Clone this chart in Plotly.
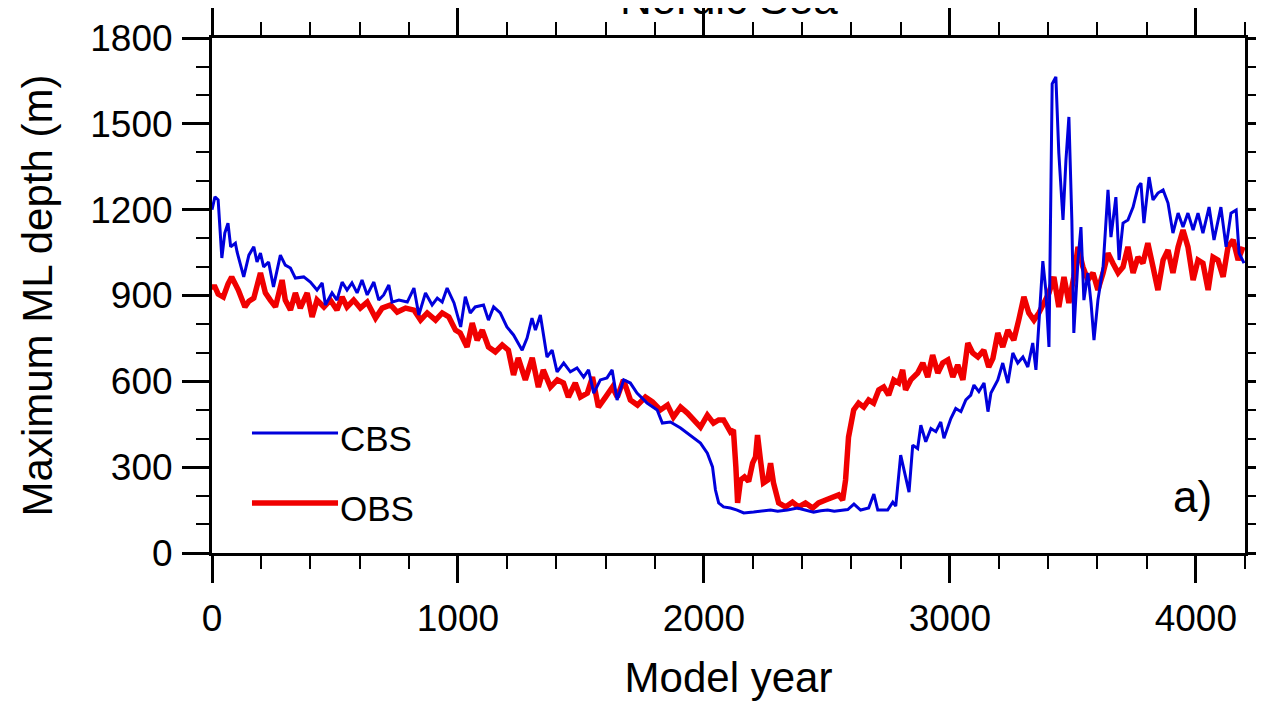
import plotly.graph_objects as go

# ---------------- data ----------------
cbs_year = [0, 12, 25, 40, 52, 65, 76, 95, 102, 129, 150, 170, 183, 197, 210, 230, 250, 278, 298, 319,
            339, 373, 400, 427, 448, 461, 488, 508, 529, 549, 569, 590, 610, 631, 658, 678, 698, 719, 732, 760,
            794, 821, 841, 868, 895, 916, 936, 956, 984, 1011, 1030, 1050, 1070, 1104, 1124, 1145, 1172, 1199, 1226, 1261,
            1281, 1301, 1315, 1335, 1362, 1383, 1403, 1430, 1457, 1484, 1511, 1531, 1552, 1579, 1606, 1627, 1647, 1674, 1701, 1728,
            1769, 1810, 1831, 1864, 1905, 1933, 1958, 1986, 2014, 2035, 2047, 2060, 2080, 2108, 2135, 2162, 2202, 2240, 2271, 2300,
            2340, 2380, 2410, 2446, 2475, 2503, 2530, 2556, 2585, 2610, 2637, 2670, 2691, 2707, 2747, 2768, 2780, 2800, 2820, 2834,
            2849, 2869, 2882, 2902, 2923, 2943, 2963, 2976, 3004, 3024, 3045, 3065, 3085, 3098, 3118, 3139, 3155, 3167, 3195, 3215,
            3236, 3256, 3276, 3297, 3317, 3337, 3350, 3362, 3378, 3390, 3403, 3416, 3431, 3443, 3460, 3472, 3484, 3496, 3504, 3521,
            3533, 3545, 3561, 3574, 3586, 3602, 3623, 3643, 3655, 3675, 3688, 3704, 3724, 3745, 3765, 3777, 3789, 3810, 3826, 3846,
            3867, 3887, 3907, 3928, 3948, 3968, 3989, 4009, 4029, 4054, 4074, 4102, 4123, 4143, 4164, 4176, 4196]
cbs_depth = [1200, 1245, 1234, 1031, 1118, 1153, 1070, 1083, 1052, 965, 1041, 1070, 1017, 1048, 1000, 1017, 930, 1041, 1006, 996,
             961, 965, 947, 919, 944, 867, 909, 884, 947, 919, 944, 909, 954, 902, 947, 884, 902, 937, 877, 884,
             877, 926, 832, 909, 867, 891, 877, 926, 874, 790, 896, 839, 860, 867, 814, 860, 839, 790, 762, 709,
             751, 821, 779, 832, 685, 709, 633, 664, 633, 647, 615, 640, 559, 605, 612, 640, 535, 605, 594, 559,
             524, 500, 454, 458, 437, 419, 405, 384, 349, 301, 220, 175, 161, 157, 150, 140, 143, 148, 150, 146,
             150, 157, 150, 143, 148, 150, 146, 150, 152, 171, 150, 157, 206, 150, 150, 178, 164, 342, 272, 213,
             377, 365, 447, 389, 435, 424, 458, 401, 470, 505, 494, 535, 552, 587, 564, 594, 494, 559, 605, 664,
             594, 699, 664, 685, 650, 734, 640, 790, 1020, 920, 720, 1640, 1664, 1398, 1164, 1373, 1524, 1164, 769, 1024,
             1139, 884, 979, 874, 744, 884, 1000, 1269, 1104, 1244, 1024, 1153, 1164, 1209, 1279, 1293, 1153, 1314, 1234, 1258,
             1269, 1223, 1118, 1188, 1139, 1188, 1129, 1188, 1118, 1209, 1094, 1209, 1070, 1188, 1199, 1048, 1013]

obs_year = [0, 12, 25, 46, 65, 80, 107, 134, 150, 170, 197, 217, 237, 258, 285, 298, 319, 339, 359, 387,
            407, 427, 455, 481, 508, 529, 549, 576, 603, 631, 665, 692, 726, 753, 787, 821, 848, 875, 909, 936,
            963, 990, 1009, 1037, 1058, 1078, 1099, 1124, 1152, 1180, 1205, 1226, 1245, 1274, 1302, 1327, 1347, 1376, 1404, 1429,
            1449, 1477, 1498, 1526, 1547, 1571, 1600, 1628, 1648, 1673, 1701, 1730, 1762, 1791, 1823, 1852, 1876, 1905, 1933, 1958,
            1986, 2014, 2039, 2060, 2080, 2108, 2120, 2130, 2137, 2149, 2165, 2182, 2198, 2210, 2218, 2230, 2242, 2259, 2271, 2283,
            2304, 2332, 2360, 2385, 2413, 2442, 2466, 2495, 2523, 2548, 2564, 2576, 2588, 2609, 2629, 2650, 2670, 2690, 2711, 2731,
            2751, 2772, 2792, 2808, 2820, 2841, 2869, 2890, 2910, 2930, 2951, 2971, 2992, 3012, 3032, 3053, 3073, 3093, 3114, 3138,
            3158, 3175, 3195, 3215, 3236, 3260, 3280, 3301, 3321, 3342, 3362, 3382, 3403, 3423, 3443, 3464, 3484, 3504, 3521, 3541,
            3561, 3582, 3602, 3623, 3643, 3663, 3684, 3704, 3724, 3745, 3765, 3785, 3805, 3826, 3846, 3867, 3887, 3907, 3928, 3948,
            3968, 3989, 4009, 4029, 4050, 4070, 4090, 4111, 4131, 4152, 4172, 4192]
obs_depth = [930, 930, 905, 895, 940, 965, 919, 860, 880, 891, 979, 909, 884, 860, 954, 884, 849, 909, 856, 909,
             825, 884, 860, 884, 849, 895, 860, 884, 856, 877, 821, 856, 867, 842, 856, 849, 814, 839, 814, 839,
             825, 779, 769, 720, 804, 744, 779, 720, 703, 727, 709, 622, 682, 605, 682, 580, 640, 580, 605, 594,
             545, 594, 545, 559, 615, 510, 545, 580, 545, 605, 535, 517, 545, 528, 500, 517, 475, 510, 489, 465,
             440, 482, 454, 465, 465, 423, 430, 300, 175, 255, 266, 250, 314, 336, 412, 325, 245, 255, 314, 245,
             175, 161, 178, 161, 175, 157, 175, 185, 192, 203, 185, 255, 405, 500, 524, 510, 535, 524, 570, 580,
             552, 605, 594, 640, 570, 605, 629, 664, 615, 692, 629, 664, 675, 615, 657, 605, 734, 699, 685, 709,
             650, 680, 769, 720, 779, 744, 814, 895, 839, 814, 839, 874, 909, 965, 860, 965, 874, 965, 1070, 1000,
             954, 979, 919, 979, 1048, 1013, 979, 1000, 1070, 979, 1034, 1013, 1083, 1000, 919, 1024, 1059, 979, 1070, 1129,
             1070, 954, 1024, 1013, 919, 1034, 1024, 965, 1070, 1094, 1024, 1070]

x_ticks = [0, 1000, 2000, 3000, 4000]
y_ticks = [0, 300, 600, 900, 1200, 1500, 1800]
series_names = ["CBS", "OBS"]
series_colors = ["#0000dc", "#f00000"]

FONT = "Liberation Sans, Arial, Helvetica, sans-serif"

fig = go.Figure()
fig.add_trace(go.Scatter(x=obs_year, y=obs_depth, mode="lines", name=series_names[1],
                         line=dict(color=series_colors[1], width=5.5), showlegend=False))
fig.add_trace(go.Scatter(x=cbs_year, y=cbs_depth, mode="lines", name=series_names[0],
                         line=dict(color=series_colors[0], width=3), showlegend=False))

axis_common = dict(
    showgrid=False, zeroline=False, showline=True, linecolor="black", linewidth=3,
    mirror="ticks", ticks="outside", ticklen=27, tickwidth=3, tickcolor="black",
    tickfont=dict(family=FONT, size=37, color="black"), automargin=False,
)

fig.update_xaxes(
    range=[0, 4200], tickvals=x_ticks, ticktext=[str(v) for v in x_ticks],
    minor=dict(dtick=200, tick0=0, ticks="outside", ticklen=13, tickwidth=2, tickcolor="black", showgrid=False),
    title=dict(text="Model year", font=dict(family=FONT, size=42, color="black"), standoff=25),
    ticklabelstandoff=4,
    **axis_common,
)
fig.update_yaxes(
    range=[0, 1800], tickvals=y_ticks, ticktext=[str(v) for v in y_ticks],
    minor=dict(dtick=100, tick0=0, ticks="outside", ticklen=13, tickwidth=2, tickcolor="black", showgrid=False),
    title=dict(text="Maximum ML depth (m)", font=dict(family=FONT, size=42, color="black"), standoff=25),
    ticklabelstandoff=2,
    **axis_common,
)

# legend drawn as in the original (long line samples inside the plot)
legend_rows = [(0.233, 0), (0.097, 1)]
for yp, i in legend_rows:
    fig.add_shape(type="line", xref="paper", yref="paper", x0=0.0387, x1=0.122, y0=yp, y1=yp,
                  line=dict(color=series_colors[i], width=3 if i == 0 else 5.5))
    fig.add_annotation(xref="paper", yref="paper", x=0.122, y=yp - 0.01, xanchor="left", yanchor="middle",
                       text=series_names[i], showarrow=False,
                       font=dict(family=FONT, size=35, color="black"))

fig.add_annotation(xref="paper", yref="paper", x=0.949, y=0.109, xanchor="center", yanchor="middle",
                   text="a)", showarrow=False, font=dict(family=FONT, size=44, color="black"))

fig.add_annotation(xref="paper", yref="paper", x=0.5, y=1.077, xanchor="center", yanchor="middle",
                   text="Nordic Sea", showarrow=False, font=dict(family=FONT, size=44, color="black"))

# page body has an 8px offset, so margins are compensated to keep the plot frame where the reference has it
fig.update_layout(
    template="none",
    width=1264, height=702,
    margin=dict(l=204, r=27, t=30, b=157, pad=0),
    paper_bgcolor="white", plot_bgcolor="white",
    showlegend=False,
)

fig.write_html("out.html")
